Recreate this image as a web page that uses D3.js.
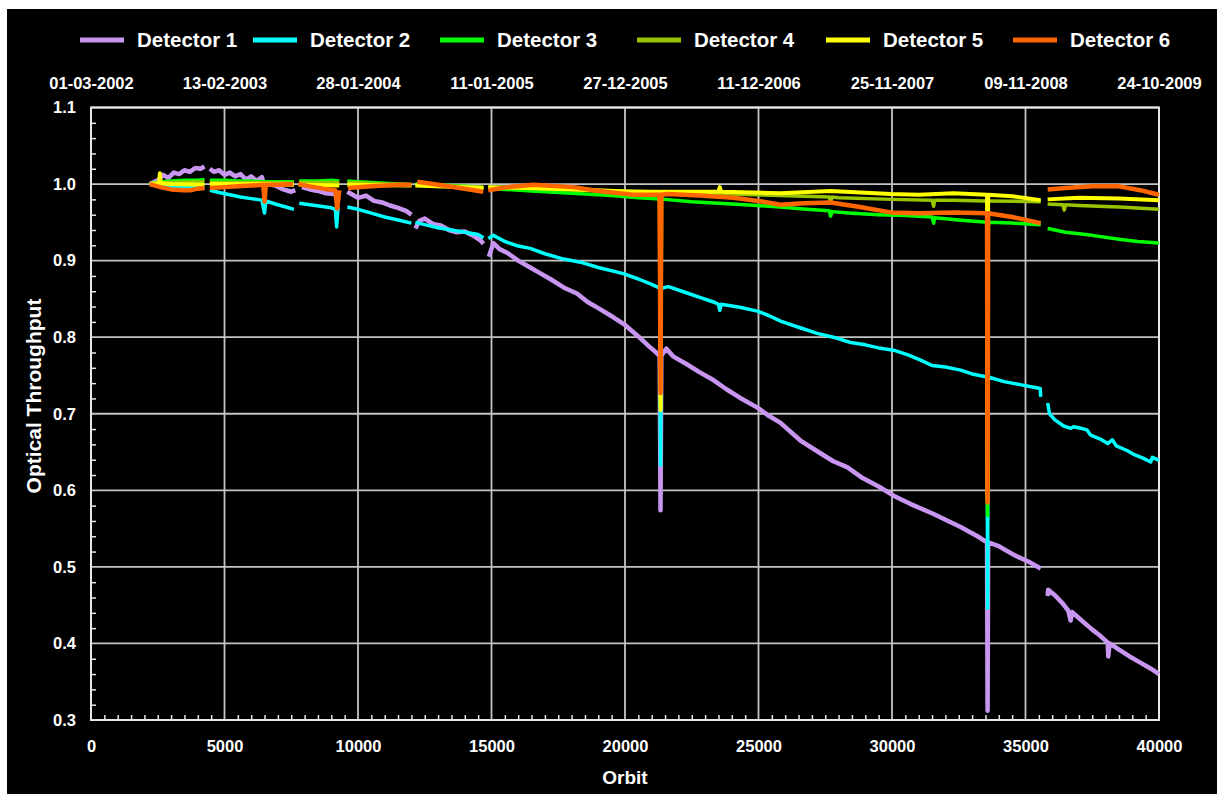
<!DOCTYPE html>
<html>
<head>
<meta charset="utf-8">
<script src="https://cdn.jsdelivr.net/npm/d3@7"></script>
<style>
  body { margin: 0; background: #fff; }
  text { font-family: "Liberation Sans", Arial, sans-serif; font-weight: bold; fill: #fff; }
</style>
</head>
<body>
<div id="chart"></div>
<script>
// orbit ticks along the bottom and matching dates along the top
var orbit_ticks = [0, 5000, 10000, 15000, 20000, 25000, 30000, 35000, 40000];
var date_labels = ["01-03-2002", "13-02-2003", "28-01-2004", "11-01-2005", "27-12-2005",
                   "11-12-2006", "25-11-2007", "09-11-2008", "24-10-2009"];
var throughput_ticks = [0.3, 0.4, 0.5, 0.6, 0.7, 0.8, 0.9, 1.0, 1.1];

var detector_names = ["Detector 1", "Detector 2", "Detector 3", "Detector 4", "Detector 5", "Detector 6"];
var detector_colors = ["#c896f0", "#00ffff", "#00ff00", "#99c400", "#ffff00", "#ff6600"];

// [orbit, throughput], null = gap in the record
var detector_1 = [[2200,1.000],[2500,1.005],[2700,1.012],[2900,1.008],[3100,1.015],[3300,1.013],[3500,1.018],[3700,1.016],[3900,1.021],[4100,1.020],[4250,1.023],
  [4300,null],
  [4450,1.020],[4600,1.016],[4800,1.018],[5000,1.012],[5200,1.015],[5400,1.010],[5600,1.013],[5800,1.006],[6000,1.010],[6200,1.004],[6400,1.009],[6500,0.996],[6600,1.000],[6900,0.998],[7200,0.993],[7500,0.990],[7650,0.992],
  [7700,null],
  [7900,0.996],[8200,0.993],[8500,0.991],[8800,0.988],[9100,0.987],[9300,0.985],
  [9400,null],
  [9600,0.990],[9800,0.986],[10000,0.982],[10300,0.985],[10600,0.978],[10900,0.976],[11200,0.972],[11500,0.969],[11800,0.965],[12000,0.960],
  [12050,null],
  [12150,0.942],[12300,0.952],[12500,0.955],[12800,0.948],[13100,0.946],[13400,0.940],[13700,0.937],[14000,0.938],[14300,0.933],[14600,0.926],[14700,0.922],
  [14800,null],
  [14900,0.905],[15070,0.923],[15300,0.915],[15600,0.910],[16000,0.900],[16400,0.892],[16800,0.884],[17200,0.876],[17700,0.865],[18200,0.857],[18600,0.846],[19000,0.838],[19565,0.826],[20000,0.816],[20500,0.801],[20900,0.788],[21200,0.779],[21300,0.775],[21330,0.574],[21360,0.776],[21550,0.785],[21800,0.775],[22300,0.765],[22800,0.754],[23310,0.744],[23800,0.732],[24300,0.721],[24960,0.708],[25400,0.697],[25825,0.688],[26570,0.665],[27200,0.651],[27800,0.638],[28335,0.630],[28900,0.616],[29500,0.605],[30060,0.593],[30700,0.582],[31560,0.569],[32100,0.560],[32570,0.552],[33200,0.540],[33560,0.532],[33580,0.312],[33600,0.532],[34000,0.527],[34600,0.515],[35100,0.507],[35570,0.498],
  [35700,null],
  [35830,0.462],[35850,0.470],[36100,0.463],[36400,0.452],[36600,0.443],[36690,0.430],[36750,0.441],[37100,0.430],[37500,0.418],[37800,0.410],[38080,0.401],[38100,0.383],[38150,0.400],[38500,0.392],[38900,0.383],[39300,0.375],[39700,0.367],[40000,0.360]];

var detector_2 = [[2200,1.000],[2600,0.998],[3000,0.997],[3500,0.996],[4000,0.995],[4250,0.995],
  [4300,null],
  [4450,0.992],[4800,0.989],[5200,0.986],[5600,0.983],[6000,0.981],[6400,0.979],[6500,0.962],[6550,0.978],[6900,0.974],[7300,0.970],[7600,0.967],
  [7700,null],
  [7800,0.975],[8200,0.973],[8600,0.971],[9000,0.969],[9150,0.967],[9200,0.944],[9250,0.968],[9300,0.967],
  [9400,null],
  [9600,0.970],[10000,0.967],[10500,0.962],[11000,0.957],[11500,0.953],[12000,0.949],
  [12050,null],
  [12150,0.950],[12500,0.947],[13000,0.943],[13500,0.940],[14000,0.937],[14500,0.934],[14700,0.930],
  [14800,null],
  [14880,0.929],[15070,0.933],[15500,0.925],[16000,0.919],[16450,0.916],[17000,0.909],[17700,0.902],[18330,0.898],[19000,0.891],[19940,0.883],[20500,0.876],[21000,0.869],[21300,0.864],[21330,0.633],[21360,0.864],[21625,0.866],[22300,0.858],[22800,0.852],[23310,0.846],[23500,0.843],[23550,0.835],[23600,0.843],[24300,0.839],[24960,0.834],[25400,0.828],[25825,0.821],[26500,0.813],[27200,0.805],[27800,0.800],[28450,0.793],[29000,0.790],[29500,0.786],[30060,0.783],[30600,0.777],[31070,0.770],[31500,0.763],[32000,0.761],[32570,0.757],[33000,0.752],[33560,0.748],[33580,0.446],[33600,0.748],[34200,0.742],[34800,0.738],[35400,0.734],[35550,0.733],[35570,0.722],
  [35700,null],
  [35830,0.714],[35900,0.700],[36100,0.692],[36430,0.684],[36700,0.681],[36800,0.683],[37070,0.681],[37300,0.679],[37440,0.672],[37800,0.667],[38080,0.661],[38250,0.666],[38400,0.658],[38800,0.652],[39050,0.647],[39400,0.642],[39690,0.637],[39750,0.643],[40000,0.639]];

var detector_3 = [[2200,1.000],[2600,1.003],[3000,1.004],[3500,1.005],[4000,1.005],[4250,1.006],
  [4300,null],
  [4450,1.005],[5000,1.005],[5500,1.004],[6000,1.004],[6500,1.003],[7000,1.003],[7600,1.003],
  [7700,null],
  [7800,1.004],[8500,1.004],[9000,1.005],[9300,1.004],
  [9400,null],
  [9600,1.004],[10000,1.003],[11000,1.001],[12000,0.999],
  [12050,null],
  [12150,1.000],[13000,0.999],[14000,0.997],[14700,0.996],
  [14800,null],
  [14880,0.995],[15500,0.993],[16500,0.991],[17500,0.989],[18500,0.987],[19500,0.985],[20500,0.982],[21500,0.980],[22500,0.977],[23500,0.975],[24500,0.973],[25800,0.970],[26800,0.967],[27650,0.965],[27700,0.958],[27750,0.964],[28500,0.962],[29500,0.960],[30500,0.959],[31500,0.957],[31560,0.949],[31600,0.956],[32500,0.953],[33560,0.950],[33580,0.567],[33600,0.950],[34500,0.949],[35570,0.947],
  [35700,null],
  [35830,0.942],[36500,0.937],[37500,0.933],[38500,0.928],[39200,0.925],[40000,0.923]];

var detector_4 = [[2200,1.000],[3000,1.002],[4250,1.003],
  [4300,null],
  [4450,1.002],[6000,1.002],[7600,1.001],
  [7700,null],
  [7800,1.002],[9300,1.002],
  [9400,null],
  [9600,1.002],[12000,0.999],
  [12050,null],
  [12150,0.999],[14700,0.996],
  [14800,null],
  [14880,0.996],[17000,0.994],[20000,0.991],[23000,0.988],[25800,0.985],[27650,0.983],[27700,0.976],[27750,0.983],[28000,0.982],[30000,0.980],[31500,0.979],[31560,0.971],[31600,0.979],[32300,0.979],[33500,0.978],[35570,0.977],
  [35700,null],
  [35830,0.974],[36400,0.973],[36450,0.966],[36500,0.973],[37000,0.972],[38500,0.970],[39500,0.968],[40000,0.967]];

var detector_5 = [[2200,1.000],[2550,1.001],[2580,1.014],[2610,1.001],[3000,1.000],[4250,0.999],
  [4300,null],
  [4450,1.000],[6000,1.000],[7600,0.999],
  [7700,null],
  [7800,0.999],[9300,0.998],
  [9400,null],
  [9600,0.999],[12000,0.998],
  [12050,null],
  [12150,0.998],[14700,0.995],
  [14800,null],
  [14880,0.996],[16500,0.995],[18000,0.993],[20300,0.990],[21300,0.990],[21330,0.705],[21360,0.990],[22000,0.990],[23500,0.990],[23550,0.996],[23600,0.990],[25800,0.988],[27700,0.991],[29950,0.987],[31000,0.986],[32310,0.988],[33560,0.986],[33580,0.590],[33600,0.986],[34500,0.984],[35570,0.979],
  [35700,null],
  [35830,0.980],[37000,0.982],[38500,0.981],[40000,0.979]];

var detector_6 = [[2200,1.000],[2600,0.996],[3000,0.993],[3500,0.992],[3710,0.992],[4000,0.994],[4250,0.995],
  [4300,null],
  [4450,0.995],[5000,0.996],[5500,0.997],[6000,0.998],[6450,0.999],[6500,0.977],[6550,0.999],[7000,0.999],[7570,1.000],
  [7700,null],
  [7760,1.000],[8200,0.997],[8700,0.994],[9150,0.992],[9220,0.968],[9300,0.992],
  [9400,null],
  [9630,0.995],[10500,0.997],[11500,0.999],[12000,0.999],
  [12050,null],
  [12220,1.003],[13000,0.999],[14000,0.994],[14690,0.990],
  [14800,null],
  [14880,0.992],[15600,0.996],[16570,0.999],[18065,0.996],[19000,0.991],[20315,0.986],[21300,0.986],[21330,0.727],[21360,0.986],[21590,0.987],[22800,0.985],[24060,0.982],[25000,0.978],[25825,0.973],[26700,0.975],[27700,0.976],[28800,0.970],[29950,0.963],[31000,0.962],[32310,0.963],[33560,0.962],[33580,0.584],[33600,0.962],[34500,0.957],[35570,0.949],
  [35700,null],
  [35830,0.993],[36500,0.995],[37500,0.997],[38500,0.997],[39300,0.992],[40000,0.986]];

var all_series = [detector_1, detector_2, detector_3, detector_4, detector_5, detector_6];
var line_widths = [4.5, 3.5, 3.5, 3.5, 4, 4.5];

// SVG properties
var chart_width = 1217;
var chart_height = 794;
var plot_left = 91;
var plot_right = 1159;
var plot_top = 107.5;
var plot_bottom = 720;

var svg = d3.select("#chart")
            .append("svg")
            .attr("width", chart_width)
            .attr("height", chart_height);

// black background, with the thin white margin of the original
svg.append("rect")
    .attr("x", 7).attr("y", 9)
    .attr("width", chart_width - 7).attr("height", chart_height - 9)
    .attr("fill", "#000");

var scale_x = d3.scaleLinear().domain([0, 40000]).range([plot_left, plot_right]);
var scale_y = d3.scaleLinear().domain([0.3, 1.1]).range([plot_bottom, plot_top]);

// grid
svg.append("g").selectAll("line")
    .data(orbit_ticks)
    .enter().append("line")
    .attr("x1", function(d){ return scale_x(d); })
    .attr("x2", function(d){ return scale_x(d); })
    .attr("y1", plot_top).attr("y2", plot_bottom)
    .attr("stroke", "#c4c4c4").attr("stroke-width", 1.8);

svg.append("g").selectAll("line")
    .data(throughput_ticks)
    .enter().append("line")
    .attr("x1", plot_left).attr("x2", plot_right)
    .attr("y1", function(d){ return scale_y(d); })
    .attr("y2", function(d){ return scale_y(d); })
    .attr("stroke", "#c4c4c4").attr("stroke-width", 1.8);

// minor ticks, pointing inwards
var minor_x = d3.range(500, 40000, 500).filter(function(d){ return d % 5000 != 0; });
var minor_y = d3.range(0.32, 1.1, 0.02).filter(function(d){ return Math.round(d * 100) % 10 != 0; });

var axis_minor_x = svg.append("g")
    .attr("transform", "translate(0," + plot_bottom + ")")
    .call(d3.axisBottom(scale_x).tickValues(minor_x).tickSize(-5).tickFormat(""));
var axis_minor_y = svg.append("g")
    .attr("transform", "translate(" + plot_left + ",0)")
    .call(d3.axisLeft(scale_y).tickValues(minor_y).tickSize(-5).tickFormat(""));
[axis_minor_x, axis_minor_y].forEach(function(a){
    a.select(".domain").remove();
    a.selectAll("line").attr("stroke", "#e6e6e6").attr("stroke-width", 1.5);
});

// frame
svg.append("rect")
    .attr("x", plot_left).attr("y", plot_top)
    .attr("width", plot_right - plot_left).attr("height", plot_bottom - plot_top)
    .attr("fill", "none").attr("stroke", "#e6e6e6").attr("stroke-width", 2);

// tick labels
var axis_x = svg.append("g")
    .attr("transform", "translate(0," + plot_bottom + ")")
    .call(d3.axisBottom(scale_x).tickValues(orbit_ticks).tickSize(0).tickPadding(20)
          .tickFormat(d3.format("d")));
var axis_top = svg.append("g")
    .attr("transform", "translate(0," + plot_top + ")")
    .call(d3.axisTop(scale_x).tickValues(orbit_ticks).tickSize(0).tickPadding(19)
          .tickFormat(function(d, i){ return date_labels[i]; }));
var axis_y = svg.append("g")
    .attr("transform", "translate(" + plot_left + ",0)")
    .call(d3.axisLeft(scale_y).tickValues(throughput_ticks).tickSize(0).tickPadding(15)
          .tickFormat(d3.format(".1f")));
[axis_x, axis_top, axis_y].forEach(function(a){
    a.select(".domain").remove();
    a.selectAll("text")
        .attr("fill", "#fff")
        .style("font-family", "'Liberation Sans', Arial, sans-serif")
        .style("font-weight", "bold")
        .style("font-size", "16.5px");
});

// axis titles
svg.append("text")
    .attr("x", 625).attr("y", 784)
    .attr("text-anchor", "middle")
    .attr("font-size", 19)
    .text("Orbit");
svg.append("text")
    .attr("transform", "translate(41,396) rotate(-90)")
    .attr("text-anchor", "middle")
    .attr("font-size", 21)
    .text("Optical Throughput");

// data lines, detector 1 at the bottom
var line = d3.line()
    .defined(function(d){ return d[1] !== null; })
    .x(function(d){ return scale_x(d[0]); })
    .y(function(d){ return scale_y(d[1]); });

svg.append("g").selectAll("path")
    .data(all_series)
    .enter().append("path")
    .attr("d", line)
    .attr("fill", "none")
    .attr("stroke", function(d, i){ return detector_colors[i]; })
    .attr("stroke-width", function(d, i){ return line_widths[i]; })
    .attr("stroke-linejoin", "round");

// legend
var legend_x = [80, 253, 440, 637, 826, 1013];
var legend = svg.append("g").selectAll("g")
    .data(detector_names)
    .enter().append("g")
    .attr("transform", function(d, i){ return "translate(" + legend_x[i] + ",40)"; });
legend.append("line")
    .attr("x1", 0).attr("x2", 44)
    .attr("stroke", function(d, i){ return detector_colors[i]; })
    .attr("stroke-width", 5);
legend.append("text")
    .attr("x", 57).attr("y", 7)
    .attr("font-size", 20.5)
    .text(function(d){ return d; });
</script>
</body>
</html>
